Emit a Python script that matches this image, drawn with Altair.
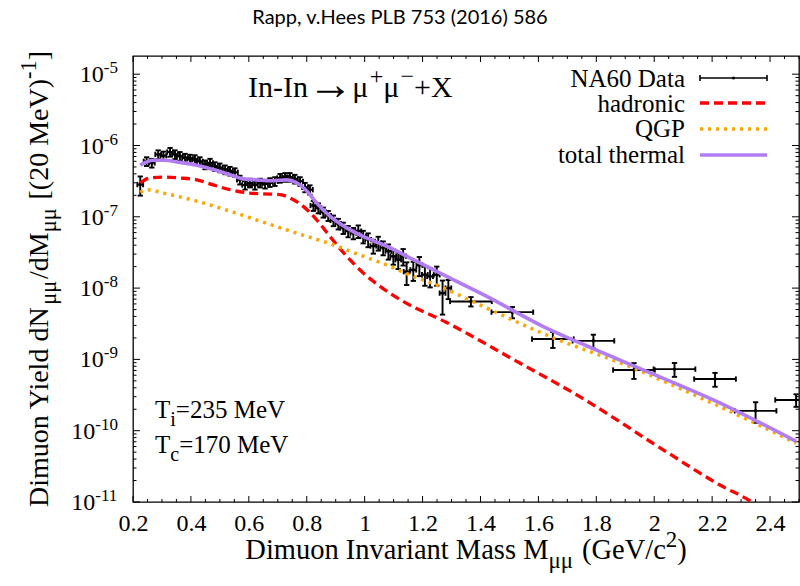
import altair as alt
import pandas as pd

# ---------------- values ----------------
# NA60 data: mass (GeV), yield, relative y-error, half bin width
data_m = [0.225, 0.247, 0.265, 0.287, 0.305, 0.328, 0.345, 0.362, 0.38, 0.397,
          0.414, 0.431, 0.449, 0.466, 0.483, 0.50, 0.518, 0.535, 0.552, 0.569,
          0.587, 0.604, 0.621, 0.639, 0.656, 0.673, 0.69, 0.708, 0.725, 0.742,
          0.759, 0.777, 0.794, 0.811, 0.823, 0.84, 0.857, 0.874, 0.892, 0.909,
          0.926, 0.943, 0.961, 0.978, 0.995, 1.012, 1.03, 1.047, 1.064, 1.082,
          1.099, 1.116, 1.133, 1.145, 1.168, 1.189, 1.208, 1.226, 1.249, 1.269,
          1.289,
          1.367, 1.51, 1.65, 1.79, 1.93, 2.07, 2.21, 2.35, 2.49]
data_y = [2.83e-7, 6.0e-7, 5.7e-7, 7.5e-7, 7.2e-7, 8.1e-7, 7.5e-7, 7.1e-7, 6.7e-7, 6.5e-7,
          6.4e-7, 6.0e-7, 5.4e-7, 5.7e-7, 5.1e-7, 4.9e-7, 4.6e-7, 4.4e-7, 4.2e-7, 3.3e-7,
          2.8e-7, 3.0e-7, 2.8e-7, 3.0e-7, 2.9e-7, 3.05e-7, 3.15e-7, 3.5e-7, 3.6e-7, 3.6e-7,
          3.4e-7, 3.15e-7, 2.6e-7, 2.4e-7, 1.44e-7, 1.33e-7, 1.16e-7, 1.04e-7, 8.9e-8, 8.0e-8,
          7.0e-8, 6.3e-8, 5.9e-8, 6.3e-8, 5.3e-8, 4.8e-8, 3.9e-8, 4.3e-8, 3.7e-8, 3.3e-8,
          2.8e-8, 2.5e-8, 2.8e-8, 1.7e-8, 1.8e-8, 2.1e-8, 1.54e-8, 1.46e-8, 1.54e-8, 8.5e-9,
          1.0e-8,
          6.5e-9, 4.6e-9, 1.93e-9, 1.82e-9, 7.1e-10, 7.3e-10, 5.3e-10, 1.9e-10, 2.7e-10]
data_rel = [0.3, 0.14, 0.14, 0.14, 0.14, 0.14, 0.14, 0.14, 0.14, 0.14,
            0.14, 0.14, 0.14, 0.14, 0.14, 0.14, 0.14, 0.14, 0.14, 0.14,
            0.14, 0.14, 0.14, 0.14, 0.14, 0.14, 0.14, 0.14, 0.14, 0.14,
            0.14, 0.14, 0.15, 0.15, 0.16, 0.16, 0.16, 0.16, 0.17, 0.17,
            0.18, 0.18, 0.18, 0.2, 0.2, 0.22, 0.22, 0.22, 0.22, 0.24,
            0.24, 0.26, 0.26, 0.35, 0.3, 0.3, 0.3, 0.3, 0.3, 0.5,
            0.3,
            0.15, 0.18, 0.25, 0.22, 0.25, 0.22, 0.22, 0.32, 0.2]
data_hw = [0.01] * 61 + [0.072] * 9

# hadronic (red dashed)
had_m = [0.225, 0.259, 0.305, 0.362, 0.42, 0.477, 0.535, 0.593, 0.65, 0.708,
         0.742, 0.788, 0.834, 0.88, 0.938, 0.995, 1.053, 1.133, 1.283, 1.513,
         1.743, 2.031, 2.227, 2.337, 2.40]
had_y = [3.0e-7, 3.5e-7, 3.6e-7, 3.5e-7, 3.3e-7, 2.8e-7, 2.4e-7, 2.17e-7, 2.1e-7, 2.05e-7,
         1.84e-7, 1.4e-7, 9.1e-8, 5.3e-8, 2.8e-8, 1.63e-8, 1.06e-8, 6.5e-9, 3.3e-9, 1.0e-9,
         3.0e-10, 5.4e-11, 1.73e-11, 1.0e-11, 6.5e-12]

# QGP (orange dotted)
qgp_m = [0.225, 0.25, 0.305, 0.42, 0.535, 0.65, 0.765, 0.88, 0.995, 1.053,
         1.11, 1.168, 1.226, 1.398, 1.628, 1.916, 2.204, 2.49]
qgp_y = [2.2e-7, 2.4e-7, 2.15e-7, 1.66e-7, 1.2e-7, 8.4e-8, 5.9e-8, 4.2e-8, 2.8e-8, 2.3e-8,
         1.85e-8, 1.45e-8, 1.2e-8, 5.8e-9, 2.2e-9, 7.9e-10, 2.4e-10, 6.7e-11]

# total thermal (purple solid)
tot_m = [0.225, 0.27, 0.305, 0.362, 0.42, 0.477, 0.535, 0.581, 0.627, 0.684,
         0.731, 0.765, 0.80, 0.834, 0.88, 0.938, 0.995, 1.087, 1.168, 1.283,
         1.41, 1.628, 1.743, 1.974, 2.204, 2.49]
tot_y = [5.3e-7, 6.2e-7, 6.2e-7, 5.8e-7, 5.3e-7, 4.6e-7, 3.9e-7, 3.4e-7, 3.3e-7, 3.2e-7,
         3.3e-7, 3.0e-7, 2.3e-7, 1.57e-7, 1.02e-7, 7.0e-8, 5.3e-8, 3.7e-8, 2.5e-8, 1.46e-8,
         8.1e-9, 2.75e-9, 1.7e-9, 6.8e-10, 2.7e-10, 7.1e-11]

x_tick_labels = [0.2, 0.4, 0.6, 0.8, 1.0, 1.2, 1.4, 1.6, 1.8, 2.0, 2.2, 2.4]
y_decades = [-11, -10, -9, -8, -7, -6, -5]

legend_labels = ["NA60 Data", "hadronic", "QGP", "total thermal"]

# ---------------- layout ----------------
W, H = 666, 446          # plot area
OX, OY = 133, 56         # plot origin on the page
SERIF = "Liberation Serif"
RED, ORANGE, PURPLE = "#ff0000", "#ffa500", "#b27cf2"

xs = alt.Scale(domain=[0.2, 2.5], nice=False, zero=False)
ys = alt.Scale(type="log", domain=[1e-11, 1.8e-5], nice=False)
xaxis = alt.Axis(values=x_tick_labels, format=".1~f", title=None, grid=False,
                 domain=False, ticks=False, tickSize=0, labelPadding=9,
                 labelFont=SERIF, labelFontSize=24, labelColor="black",
                 labelFlush=False, labelOverlap=False)


def X(f):
    return alt.X(f, type="quantitative", scale=xs, axis=xaxis)


def Y(f):
    return alt.Y(f, type="quantitative", scale=ys, axis=None)


def PX(f):
    return alt.X(f, type="quantitative", scale=None, axis=None)


def PY(f):
    return alt.Y(f, type="quantitative", scale=None, axis=None)


# Times / Liberation Serif advance widths (1/1000 em)
CW = {' ': 250, '(': 333, ')': 333, '+': 564, ',': 250, '-': 333, '.': 250, '/': 278,
      '=': 564, '[': 333, ']': 333, 'A': 722, 'D': 722, 'G': 722, 'I': 333, 'M': 889,
      'N': 722, 'T': 611, 'V': 722, 'X': 722, 'Y': 722, 'P': 556, 'Q': 722,
      'a': 444, 'c': 444, 'd': 500, 'e': 444, 'h': 500, 'i': 278, 'l': 278, 'm': 778,
      'n': 500, 'o': 500, 'r': 333, 's': 389, 't': 278, 'u': 500, 'v': 500,
      'μ': 576, '→': 820, '−': 564}


def tw(s, size):
    return sum(CW.get(c, 500) for c in s) * size / 1000.0


def rich(segs, x0, y0, size, align="left", angle=0):
    """segs: list of (text, kind) with kind n/sub/sup/arrow; x0,y0 absolute page px."""
    parts = []
    total = 0.0
    for t, k in segs:
        if k == "n":
            fs, shift = size, 0.0
        elif k == "sub":
            fs, shift = size * 0.8, 0.3 * size
        elif k == "sup":
            fs, shift = size * 0.8, -0.42 * size
        else:  # arrow, drawn larger
            fs, shift = size * 1.5, 0.08 * size
        lead = len(t) - len(t.lstrip(" "))
        total += tw(" " * lead, size)
        t = t.lstrip(" ")
        parts.append((t, fs, shift, total, k))
        total += tw(t, fs)
    off = {"left": 0.0, "center": total / 2, "right": total}[align]
    rows = []
    for t, fs, shift, s, k in parts:
        if angle == 0:
            px, py = x0 + s - off, y0 + shift
        else:
            px, py = x0 + shift, y0 - (s - off)
        rows.append({"px": px - OX, "py": py - OY, "t": t, "fs": fs})
    return rows


# ---------------- tick marks (inside, mirrored) ----------------
xt_major = x_tick_labels
xt_minor = [round(0.2 + 0.05 * i, 3) for i in range(0, 47)]
xt_minor = [v for v in xt_minor if all(abs(v - mj) > 1e-6 for mj in xt_major) and v <= 2.5]
yt_major = [10.0 ** n for n in y_decades]
yt_minor = [k * 10.0 ** n for n in y_decades[:-1] for k in range(2, 10)]

layers = []
for vals, ln in [(xt_major, 6), (xt_minor, 3)]:
    c = alt.Chart(pd.DataFrame({"m": vals}))
    layers.append(c.mark_rule(color="black", strokeWidth=1).encode(
        x=X("m"), y=alt.value(H), y2=alt.value(H - ln)))
    layers.append(c.mark_rule(color="black", strokeWidth=1).encode(
        x=X("m"), y=alt.value(0), y2=alt.value(ln)))
for vals, ln in [(yt_major, 7), (yt_minor, 3.5)]:
    c = alt.Chart(pd.DataFrame({"v": vals}))
    layers.append(c.mark_rule(color="black", strokeWidth=1).encode(
        y=Y("v"), x=alt.value(0), x2=alt.value(ln)))
    layers.append(c.mark_rule(color="black", strokeWidth=1).encode(
        y=Y("v"), x=alt.value(W), x2=alt.value(W - ln)))

# ---------------- NA60 data with error bars ----------------
dd = pd.DataFrame({"m": data_m, "y": data_y, "rel": data_rel, "hw": data_hw})
dd["ylo"] = dd["y"] * (1 - dd["rel"])
dd["yhi"] = dd["y"] * (1 + dd["rel"])
dd["mlo"] = dd["m"] - dd["hw"]
dd["mhi"] = dd["m"] + dd["hw"]
dc = alt.Chart(dd)
SW = 1.9
layers += [
    dc.mark_rule(color="black", strokeWidth=SW, clip=True).encode(
        x=X("m"), y=Y("ylo"), y2="yhi"),
    dc.mark_rule(color="black", strokeWidth=SW, clip=True).encode(
        x=X("mlo"), x2="mhi", y=Y("y")),
    dc.mark_point(shape="M-1,0L1,0", size=28, color="black", strokeWidth=SW,
                  filled=False, opacity=1, clip=True).encode(x=X("m"), y=Y("ylo")),
    dc.mark_point(shape="M-1,0L1,0", size=28, color="black", strokeWidth=SW,
                  filled=False, opacity=1, clip=True).encode(x=X("m"), y=Y("yhi")),
    dc.mark_point(shape="M0,-1L0,1", size=28, color="black", strokeWidth=SW,
                  filled=False, opacity=1, clip=True).encode(x=X("mlo"), y=Y("y")),
    dc.mark_point(shape="M0,-1L0,1", size=28, color="black", strokeWidth=SW,
                  filled=False, opacity=1, clip=True).encode(x=X("mhi"), y=Y("y")),
    dc.mark_circle(size=12, color="black", opacity=1, clip=True).encode(
        x=X("m"), y=Y("y")),
]

# ---------------- model curves ----------------
layers.append(alt.Chart(pd.DataFrame({"m": had_m, "y": had_y})).mark_line(
    color=RED, strokeWidth=3.3, strokeDash=[9, 5], interpolate="monotone", clip=True
).encode(x=X("m"), y=Y("y")))
layers.append(alt.Chart(pd.DataFrame({"m": qgp_m, "y": qgp_y})).mark_line(
    color=ORANGE, strokeWidth=3.5, strokeDash=[3, 5], interpolate="monotone", clip=True
).encode(x=X("m"), y=Y("y")))
layers.append(alt.Chart(pd.DataFrame({"m": tot_m, "y": tot_y})).mark_line(
    color=PURPLE, strokeWidth=3.6, interpolate="monotone", clip=True
).encode(x=X("m"), y=Y("y")))

# ---------------- y tick labels 10^n ----------------
yl = pd.DataFrame({"v": [10.0 ** n for n in y_decades],
                   "base": ["10"] * len(y_decades),
                   "sup": ["-%d" % abs(n) for n in y_decades]})
yl["pj"] = [-15 - tw(s, 17) for s in yl["sup"]]
ylc = alt.Chart(yl)
layers.append(ylc.mark_text(align="right", baseline="alphabetic", dy=8, font=SERIF,
                            fontSize=24, color="black").encode(
    x=PX("pj"), y=Y("v"), text="base:N"))
layers.append(ylc.mark_text(align="left", baseline="alphabetic", dy=-1, font=SERIF,
                            fontSize=17, color="black").encode(
    x=PX("pj"), y=Y("v"), text="sup:N"))

# ---------------- texts ----------------
rows0 = []
rows0 += rich([("Dimuon Invariant Mass M", "n"), ("μμ", "sub"), (" (GeV/c", "n"),
               ("2", "sup"), (")", "n")], OX + W / 2, 559, 28.5, align="center")
rows0 += rich([("In-In", "n"), ("→", "arrow"), (" μ", "n"), ("+", "sup"), ("μ", "n"),
               ("−", "sup"), ("+X", "n")], 248, 97, 30)
rows0 += rich([("T", "n"), ("i", "sub"), ("=235 MeV", "n")], 155, 418, 25)
rows0 += rich([("T", "n"), ("c", "sub"), ("=170 MeV", "n")], 155, 453, 25)
for lab, yb in zip(legend_labels, [87, 112, 137, 163]):
    rows0 += rich([(lab, "n")], 685, yb, 25, align="right")

rows90 = rich([("Dimuon Yield dN", "n"), ("μμ", "sub"), ("/dM", "n"), ("μμ", "sub"),
               (" [(20 MeV)", "n"), ("-1", "sup"), ("]", "n")],
              48, OY + H / 2, 28, align="center", angle=270)

layers.append(alt.Chart(pd.DataFrame(rows0)).mark_text(
    align="left", baseline="alphabetic", font=SERIF, color="black").encode(
    x=PX("px"), y=PY("py"), text="t:N", size=alt.Size("fs:Q", scale=None, legend=None)))
layers.append(alt.Chart(pd.DataFrame(rows90)).mark_text(
    align="left", baseline="alphabetic", font=SERIF, color="black", angle=270).encode(
    x=PX("px"), y=PY("py"), text="t:N", size=alt.Size("fs:Q", scale=None, legend=None)))

layers.append(alt.Chart(pd.DataFrame({"px": [400 - OX], "py": [24 - OY],
                                      "t": ["Rapp, v.Hees PLB 753 (2016) 586"]})).mark_text(
    align="center", baseline="alphabetic", font="Lato", fontSize=20, color="black").encode(
    x=PX("px"), y=PY("py"), text="t:N"))

# ---------------- legend samples ----------------
ly = [78 - OY, 103 - OY, 129 - OY, 155 - OY]
lx1, lx2 = 700 - OX, 767 - OX
seg = lambda yy: pd.DataFrame({"x1": [lx1], "x2": [lx2], "y": [yy]})
layers.append(alt.Chart(seg(ly[0])).mark_rule(color="black", strokeWidth=1.6).encode(
    x=PX("x1"), x2="x2", y=PY("y")))
caps = pd.DataFrame({"x": [lx1, lx2], "y1": [ly[0] - 3, ly[0] - 3], "y2": [ly[0] + 3, ly[0] + 3]})
layers.append(alt.Chart(caps).mark_rule(color="black", strokeWidth=1.6).encode(
    x=PX("x"), y=PY("y1"), y2="y2"))
layers.append(alt.Chart(pd.DataFrame({"x": [(lx1 + lx2) / 2], "y": [ly[0]]})).mark_circle(
    size=10, color="black", opacity=1).encode(x=PX("x"), y=PY("y")))
layers.append(alt.Chart(seg(ly[1])).mark_rule(color=RED, strokeWidth=3.3, strokeDash=[9, 5]).encode(
    x=PX("x1"), x2="x2", y=PY("y")))
layers.append(alt.Chart(seg(ly[2])).mark_rule(color=ORANGE, strokeWidth=3.5, strokeDash=[3, 5]).encode(
    x=PX("x1"), x2="x2", y=PY("y")))
layers.append(alt.Chart(seg(ly[3])).mark_rule(color=PURPLE, strokeWidth=3.6).encode(
    x=PX("x1"), x2="x2", y=PY("y")))

chart = alt.layer(*layers).properties(
    width=W, height=H,
    autosize=alt.AutoSizeParams(type="none"),
    padding={"left": OX, "top": OY, "right": 800 - OX - W, "bottom": 586 - OY - H},
    background="white",
).configure_view(stroke="black", strokeWidth=1.3)

chart.save("out.html", embed_options={"renderer": "svg", "actions": False})
